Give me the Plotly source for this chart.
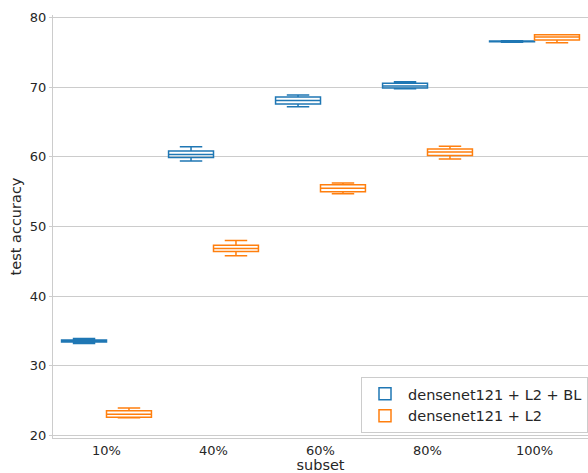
import plotly.graph_objects as go

subsets = ["10%", "40%", "60%", "80%", "100%"]

bl_min = [33.2, 59.4, 67.2, 69.8, 76.5]
bl_q1 = [33.4, 59.9, 67.6, 69.9, 76.55]
bl_med = [33.55, 60.35, 68.1, 70.2, 76.6]
bl_q3 = [33.7, 60.85, 68.6, 70.6, 76.65]
bl_max = [33.9, 61.45, 68.9, 70.8, 76.7]

l2_min = [22.5, 45.8, 54.7, 59.7, 76.4]
l2_q1 = [22.6, 46.4, 55.0, 60.2, 76.8]
l2_med = [23.0, 46.85, 55.5, 60.7, 77.25]
l2_q3 = [23.5, 47.3, 56.0, 61.15, 77.55]
l2_max = [23.9, 48.0, 56.25, 61.55, 77.55]

series = [
    ("densenet121 + L2 + BL", "#1f77b4", bl_min, bl_q1, bl_med, bl_q3, bl_max),
    ("densenet121 + L2", "#ff7f0e", l2_min, l2_q1, l2_med, l2_q3, l2_max),
]

fig = go.Figure()
for name, color, mn, q1, md, q3, mx in series:
    fig.add_trace(go.Box(
        name=name, x=subsets, lowerfence=mn, q1=q1, median=md, q3=q3, upperfence=mx,
        line=dict(color=color, width=1.5), fillcolor="rgba(255,255,255,0)",
        whiskerwidth=0.5, boxpoints=False,
    ))

fig.update_layout(
    width=588, height=473,
    margin=dict(l=53, r=0, t=15, b=35),
    paper_bgcolor="white", plot_bgcolor="white",
    font=dict(family="DejaVu Sans", size=13, color="#262626"),
    boxmode="group", boxgap=0.16, boxgroupgap=0,
    legend=dict(x=1, y=0.012, xanchor="right", yanchor="bottom",
                bgcolor="rgba(255,255,255,0.9)", bordercolor="#cccccc", borderwidth=1,
                font=dict(size=14.5), itemwidth=36, tracegroupgap=0),
    xaxis=dict(title=dict(text="subset", standoff=4, font=dict(size=14.5)),
               showline=True, linecolor="#cccccc", linewidth=1.2,
               showgrid=False, ticks="", ticklabelstandoff=0, automargin=False,
               range=[-0.5, 4.5], tickfont=dict(size=13)),
    yaxis=dict(title=dict(text="test accuracy", standoff=4, font=dict(size=14.5)),
               range=[19.6, 80.4], tickvals=[20, 30, 40, 50, 60, 70, 80],
               showline=True, linecolor="#cccccc", linewidth=1.2,
               showgrid=True, gridcolor="#cccccc", gridwidth=1,
               ticks="outside", ticklen=3, tickcolor="#cccccc",
               zeroline=False, tickfont=dict(size=13)),
)

fig.write_html("out.html")
